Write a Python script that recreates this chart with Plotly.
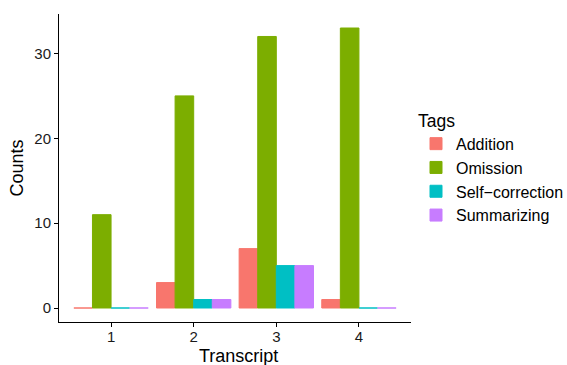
import plotly.graph_objects as go

transcripts = [1, 2, 3, 4]
tags = ["Addition", "Omission", "Self\u2212correction", "Summarizing"]
addition = [0, 3, 7, 1]
omission = [11, 25, 32, 33]
self_correction = [0, 1, 5, 0]
summarizing = [0, 1, 5, 0]
colors = ["#F8766D", "#7CAE00", "#00BFC4", "#C77CFF"]
series = [addition, omission, self_correction, summarizing]

fig = go.Figure()
for name, vals, col in zip(tags, series, colors):
    fig.add_trace(go.Bar(
        x=transcripts, y=vals, name=name,
        marker=dict(color=col, line=dict(color=col, width=1)),
    ))

font = "Liberation Sans, Arial, sans-serif"
fig.update_layout(
    width=567, height=365,
    margin=dict(l=59, r=156, t=14, b=43),
    paper_bgcolor="white", plot_bgcolor="white",
    barmode="group", bargap=0.1, bargroupgap=0,
    font=dict(family=font, size=15, color="black"),
    legend=dict(
        title=dict(text="Tags", font=dict(size=17.5)),
        xref="container", yref="container",
        x=416 / 567, xanchor="left", y=1 - 168 / 365, yanchor="middle",
        font=dict(size=16), tracegroupgap=0, itemwidth=30,
        borderwidth=0,
    ),
    xaxis=dict(
        tickmode="array", tickvals=transcripts, ticktext=[str(t) for t in transcripts],
        range=[0.37, 4.63], showline=True, linecolor="black", linewidth=1,
        ticks="outside", ticklen=4, tickcolor="black", showgrid=False, zeroline=False,
        tickfont=dict(size=15, color="#1a1a1a"), automargin=False,
        ticklabelstandoff=-3,
    ),
    yaxis=dict(
        range=[-1.65, 34.65], tickvals=[0, 10, 20, 30],
        showline=True, linecolor="black", linewidth=1,
        ticks="outside", ticklen=4, tickcolor="black", showgrid=False, zeroline=False,
        title=dict(text="Counts", font=dict(size=18), standoff=6),
        tickfont=dict(size=15, color="#1a1a1a"), automargin=False,
    ),
    annotations=[dict(
        text="Transcript", xref="paper", yref="paper",
        x=0.51, y=-(355.5 - 322) / 308, xanchor="center", yanchor="middle",
        showarrow=False, font=dict(size=18, color="black"),
    )],
)
fig.write_html("out.html")
